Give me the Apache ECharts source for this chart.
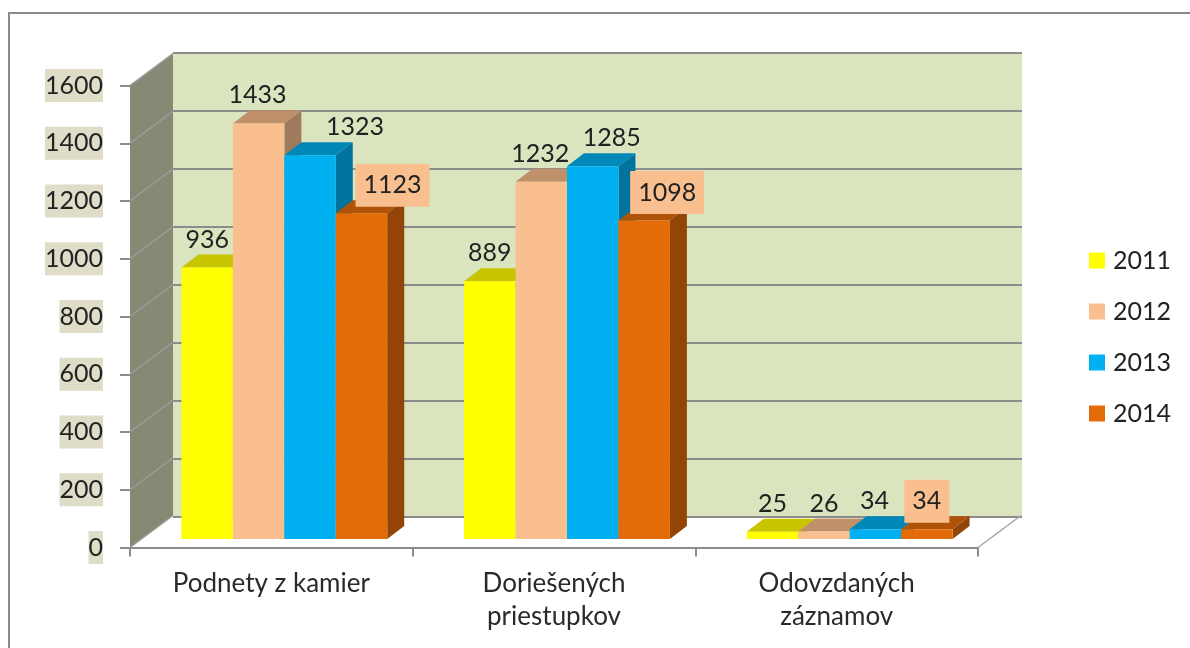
<!DOCTYPE html>
<html>
<head>
<meta charset="utf-8">
<style>html,body{margin:0;padding:0;background:#fff}#chart{width:1190px;height:648px}</style>
<script src="https://cdn.jsdelivr.net/npm/echarts@6/dist/echarts.min.js"></script>
</head>
<body>
<div id="chart"></div>
<script>
var categories = ['Podnety z kamier', 'Doriešených\npriestupkov', 'Odovzdaných\nzáznamov'];
var years = ['2011', '2012', '2013', '2014'];
var values2011 = [936, 889, 25];
var values2012 = [1433, 1232, 26];
var values2013 = [1323, 1285, 34];
var values2014 = [1123, 1098, 34];
var yTicks = [200, 400, 600, 800, 1000, 1200, 1400, 1600];

var FONT = 'Lato';
var allValues = [values2011, values2012, values2013, values2014];
var front = ['#ffff00', '#fabf8f', '#00b0f0', '#e36c09'];
var topFace = ['#c8c400', '#bf9069', '#0088b8', '#ae5307'];
var sideFace = ['#c8c400', '#a07a5c', '#00749f', '#924506'];
var DX = 17, DY = 13; // depth of a bar
var WALL_DX = 43, WALL_DY = 32; // depth of the floor
var labelShift = [[0, 0, 0], [-1, -1, 0], [45, 19, -1], [31, 23, 0]];

var chart = echarts.init(document.getElementById('chart'));

function poly(points, fill) {
    return { type: 'polygon', shape: { points: points }, style: { fill: fill } };
}

function barSeries(s) {
    return {
        name: years[s],
        type: 'custom',
        xAxisIndex: 2,
        yAxisIndex: 2,
        z: 3,
        clip: false,
        itemStyle: { color: front[s] },
        data: allValues[s].map(function (v, i) { return [i, v]; }),
        renderItem: function (params, api) {
            var base = api.coord([api.value(0), 0]);
            var top = api.coord([api.value(0), api.value(1)]);
            var w = api.size([1, 0])[0] * 0.182;
            var x = base[0] + (s - 2) * w;
            return {
                type: 'group',
                children: [
                    poly([[x, top[1]], [x + DX, top[1] - DY], [x + w + DX, top[1] - DY], [x + w, top[1]]], topFace[s]),
                    poly([[x + w, top[1]], [x + w + DX, top[1] - DY], [x + w + DX, base[1] - DY], [x + w, base[1]]], sideFace[s]),
                    poly([[x, top[1]], [x + w, top[1]], [x + w, base[1]], [x, base[1]]], front[s])
                ]
            };
        }
    };
}

function labelSeries(s) {
    return {
        name: 'labels' + years[s],
        type: 'custom',
        xAxisIndex: 2,
        yAxisIndex: 2,
        z: 5,
        clip: false,
        silent: true,
        data: allValues[s].map(function (v, i) { return [i, v]; }),
        renderItem: function (params, api) {
            var i = api.value(0);
            var top = api.coord([i, api.value(1)]);
            var w = api.size([1, 0])[0] * 0.182;
            var cx = top[0] + (s - 1.5) * w + labelShift[s][i];
            var style = {
                x: cx, y: top[1] - 28,
                text: String(api.value(1)),
                font: '25px ' + FONT,
                fill: '#222',
                align: 'center',
                verticalAlign: 'middle'
            };
            if (s === 3) {
                style.backgroundColor = '#fabf8f';
                style.padding = [9, 8, 9, 8];
            }
            return { type: 'text', style: style };
        }
    };
}

var series = [
    { // left wall and its slanted lines
        type: 'custom',
        xAxisIndex: 0,
        yAxisIndex: 0,
        z: 1,
        silent: true,
        clip: false,
        data: [0].concat(yTicks).map(function (v) { return [0, v]; }),
        renderItem: function (params, api) {
            var x = params.coordSys.x;
            var y = api.coord([0, api.value(1)])[1];
            var lineShape = { x1: x, y1: y, x2: x + WALL_DX, y2: y - WALL_DY };
            var line = { type: 'line', shape: lineShape, style: { stroke: '#9c9c9c', lineWidth: 1.5 } };
            if (api.value(1) === 0) {
                var topY = api.coord([0, 1600])[1];
                return {
                    type: 'group',
                    children: [
                        poly([[x, topY], [x + WALL_DX, topY - WALL_DY], [x + WALL_DX, y - WALL_DY], [x, y]], '#868a74'),
                        line
                    ]
                };
            }
            return line;
        }
    },
    { // right edge of the floor
        type: 'custom',
        xAxisIndex: 0,
        yAxisIndex: 0,
        z: 1,
        silent: true,
        clip: false,
        data: [[0, 0]],
        renderItem: function (params, api) {
            var x = params.coordSys.x + params.coordSys.width;
            var y = api.coord([0, 0])[1];
            return { type: 'line', shape: { x1: x, y1: y, x2: x + WALL_DX, y2: y - WALL_DY }, style: { stroke: '#a4a4a4', lineWidth: 1.5 } };
        }
    }
];
years.forEach(function (y, s) { series.push(barSeries(s)); });
years.forEach(function (y, s) { series.push(labelSeries(s)); });

var hiddenX = { type: 'category', data: categories, show: false };

chart.setOption({
    animation: false,
    backgroundColor: '#ffffff',
    textStyle: { fontFamily: FONT },
    graphic: [{
        type: 'polyline',
        shape: { points: [[9, 660], [9, 13], [1200, 13]] },
        style: { stroke: '#8a8a8a', lineWidth: 2, fill: null }
    }],
    legend: {
        data: years,
        orient: 'vertical',
        left: 1084,
        top: 243,
        itemWidth: 16,
        itemHeight: 16,
        itemGap: 26,
        icon: 'rect',
        selectedMode: false,
        textStyle: { fontFamily: FONT, fontSize: 25, color: '#222', padding: [0, 0, 0, 3] }
    },
    grid: [
        { left: 130, top: 85.5, width: 848, height: 462 },            // front axes
        { left: 173, top: 52.5, width: 849, height: 464, show: true, backgroundColor: '#dae4bf', borderWidth: 0 }, // back wall
        { left: 143, top: 75, width: 848, height: 464 }               // plane of the bars
    ],
    xAxis: [
        {
            type: 'category',
            gridIndex: 0,
            data: categories,
            axisLine: { lineStyle: { color: '#8c8c8c', width: 2 } },
            axisTick: { show: true, length: 9, alignWithLabel: false, lineStyle: { color: '#8c8c8c', width: 2 } },
            axisLabel: { fontFamily: FONT, fontSize: 26, color: '#2a2a2a', lineHeight: 33, margin: 20 }
        },
        Object.assign({ gridIndex: 1 }, hiddenX),
        Object.assign({ gridIndex: 2 }, hiddenX)
    ],
    yAxis: [
        {
            type: 'value',
            gridIndex: 0,
            min: 0,
            max: 1600,
            interval: 200,
            axisLine: { show: false },
            axisTick: { show: true, length: 10, lineStyle: { color: '#8c8c8c', width: 2 } },
            splitLine: { show: false },
            axisLabel: {
                fontFamily: FONT, fontSize: 25, color: '#222',
                backgroundColor: '#dfdcc8', lineHeight: 33, margin: 27,
                formatter: function (v) { return String(v); }
            }
        },
        {
            type: 'value',
            gridIndex: 1,
            min: 0,
            max: 1600,
            interval: 200,
            axisLine: { show: false },
            axisTick: { show: false },
            axisLabel: { show: false },
            splitLine: { show: true, lineStyle: { color: '#8c8c8c', width: 2 } }
        },
        { type: 'value', gridIndex: 2, min: 0, max: 1600, show: false, splitLine: { show: false } }
    ],
    series: series
});
</script>
</body>
</html>
